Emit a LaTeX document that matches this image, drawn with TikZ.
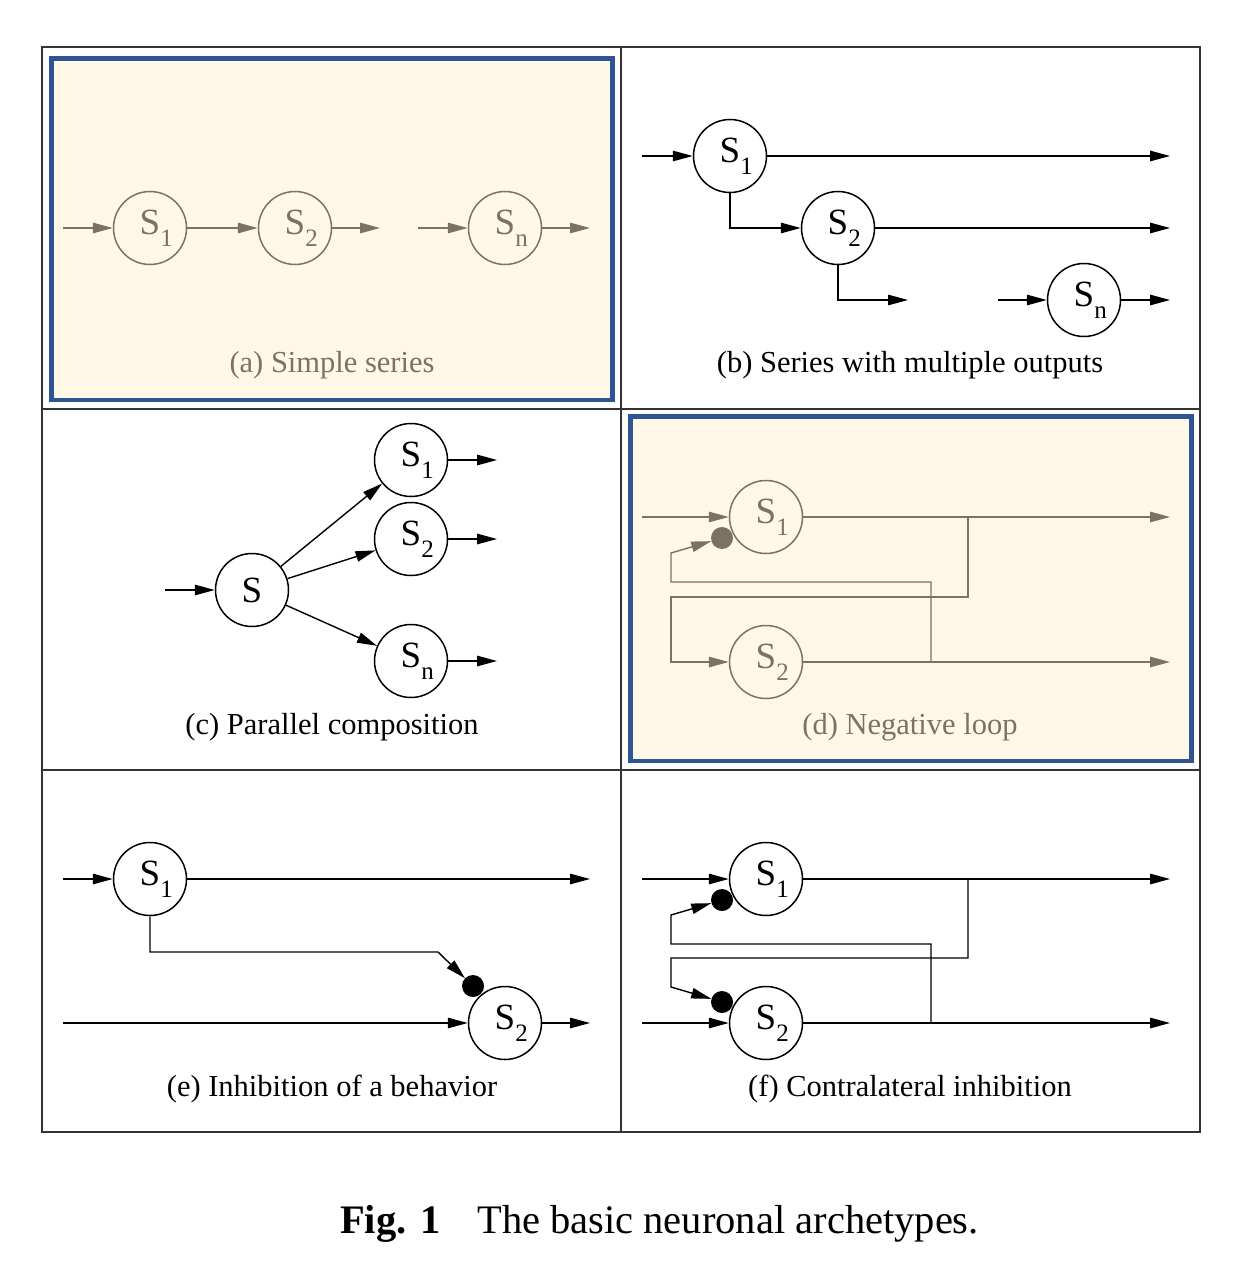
\documentclass[tikz,border=0pt]{standalone}
\usepackage{fontspec}
\setmainfont{Liberation Serif}
\usetikzlibrary{arrows.meta}
\definecolor{hlgray}{RGB}{122,115,99}
\definecolor{hlfill}{RGB}{255,248,231}
\definecolor{hlblue}{RGB}{47,84,150}
\newcommand\ssub[1]{\rlap{\raisebox{-0.33em}{\fontsize{25}{25}\selectfont #1}}}
\tikzset{
  neuron/.style={circle, draw, line width=1.5pt, minimum size=73pt, inner sep=0pt,
    font=\fontsize{37}{37}\selectfont},
  arr/.style={line width=1.4pt, -{Triangle[length=20pt,width=10.5pt]}},
  dotn/.style={circle, fill, inner sep=0pt, minimum size=22pt},
  captext/.style={anchor=base, font=\fontsize{30.5}{34}\selectfont},
  hl/.style={draw=hlblue, fill=hlfill, line width=4.7pt},
  gridl/.style={draw=black!80, line width=1.8pt},
}
\begin{document}
\begin{tikzpicture}[x=1pt,y=-1pt]
\useasboundingbox (0,0) rectangle (1254,1281);
% highlight panels
\path[hl] (51.5,58.4) rectangle (612.5,400);
\path[hl] (630.5,416.3) rectangle (1191.5,761);
% grid
\draw[gridl] (42,47.3) rectangle (1200,1132);
\draw[gridl] (621,47.3) -- (621,1132);
\draw[gridl] (42,408.7) -- (1200,408.7);
\draw[gridl] (42,770) -- (1200,770);

% ---------- (a) ----------
\begin{scope}[hlgray, draw=hlgray, text=hlgray]
\node[neuron] (a1) at (150,228) {S\ssub{1}};
\node[neuron] (a2) at (295,228) {S\ssub{2}};
\node[neuron] (an) at (505,228) {S\ssub{n}};
\coordinate (a0) at (63,228);
\coordinate (a2o) at (380,228);
\coordinate (ani) at (418,228);
\coordinate (ano) at (590,228);
\draw[arr] (a0) -- (a1);
\draw[arr] (a1) -- (a2);
\draw[arr] (a2) -- (a2o);
\draw[arr] (ani) -- (an);
\draw[arr] (an) -- (ano);
\node[captext] (capa) at (332,372) {(a) Simple series};
\end{scope}

% ---------- (b) ----------
\node[neuron] (b1) at (730,156) {S\ssub{1}};
\node[neuron] (b2) at (838,228) {S\ssub{2}};
\node[neuron] (bn) at (1084,300) {S\ssub{n}};
\coordinate (b0) at (642,156);
\coordinate (b1o) at (1170,156);
\coordinate (b2o) at (1170,228);
\coordinate (b2d) at (908,300);
\coordinate (bni) at (998,300);
\coordinate (bno) at (1170,300);
\draw[arr] (b0) -- (b1);
\draw[arr] (b1) -- (b1o);
\draw[arr] (b1.south) |- (b2);
\draw[arr] (b2) -- (b2o);
\draw[arr] (b2.south) |- (b2d);
\draw[arr] (bni) -- (bn);
\draw[arr] (bn) -- (bno);
\node[captext] (capb) at (910,372) {(b) Series with multiple outputs};

% ---------- (c) ----------
\node[neuron] (c0) at (252,590) {S};
\node[neuron] (c1) at (411,460) {S\ssub{1}};
\node[neuron] (c2) at (411,539) {S\ssub{2}};
\node[neuron] (cn) at (411,661) {S\ssub{n}};
\coordinate (ci) at (165,590);
\coordinate (c1o) at (497,460);
\coordinate (c2o) at (497,539);
\coordinate (cno) at (497,661);
\draw[arr] (ci) -- (c0);
\draw[arr] (c0) -- (c1);
\draw[arr] (c0) -- (c2);
\draw[arr] (c0) -- (cn);
\draw[arr] (c1) -- (c1o);
\draw[arr] (c2) -- (c2o);
\draw[arr] (cn) -- (cno);
\node[captext] (capc) at (332,734) {(c) Parallel composition};

% ---------- (d) ----------
\begin{scope}[hlgray, draw=hlgray, text=hlgray]
\node[neuron] (d1) at (766,517) {S\ssub{1}};
\node[neuron] (d2) at (766,662) {S\ssub{2}};
\node[dotn, fill=hlgray] (dd1) at (722,538) {};
\coordinate (d0) at (642,517);
\coordinate (d1o) at (1170,517);
\coordinate (d2o) at (1170,662);
\coordinate (dj1) at (968,517);
\coordinate (dj2) at (931,662);
\draw[arr] (d0) -- (d1);
\draw[arr] (d1) -- (d1o);
\draw[arr] (d2) -- (d2o);
\draw[arr] (dj1) -- (968,597) -- (671,597) -- (671,662) -- (d2);
\draw[arr] (dj2) -- (931,582) -- (671,582) -- (671,553) -- (dd1);
\node[captext] (capd) at (910,734) {(d) Negative loop};
\end{scope}

% ---------- (e) ----------
\node[neuron] (e1) at (150,879) {S\ssub{1}};
\node[neuron] (e2) at (505,1023) {S\ssub{2}};
\node[dotn] (ed) at (473,986) {};
\coordinate (e0) at (63,879);
\coordinate (e1o) at (590,879);
\coordinate (e2i) at (63,1023);
\coordinate (e2o) at (590,1023);
\draw[arr] (e0) -- (e1);
\draw[arr] (e1) -- (e1o);
\draw[arr] (e1.south) -- (150,952) -- (438,952) -- (ed);
\draw[arr] (e2i) -- (e2);
\draw[arr] (e2) -- (e2o);
\node[captext] (cape) at (332,1096) {(e) Inhibition of a behavior};

% ---------- (f) ----------
\node[neuron] (f1) at (766,879) {S\ssub{1}};
\node[neuron] (f2) at (766,1023) {S\ssub{2}};
\node[dotn] (fd1) at (722,900) {};
\node[dotn] (fd2) at (722,1002) {};
\coordinate (f1i) at (642,879);
\coordinate (f2i) at (642,1023);
\coordinate (f1o) at (1170,879);
\coordinate (f2o) at (1170,1023);
\coordinate (fj1) at (968,879);
\coordinate (fj2) at (931,1023);
\draw[arr] (f1i) -- (f1);
\draw[arr] (f2i) -- (f2);
\draw[arr] (f1) -- (f1o);
\draw[arr] (f2) -- (f2o);
\draw[arr] (fj1) -- (968,958) -- (671,958) -- (671,987) -- (fd2);
\draw[arr] (fj2) -- (931,944) -- (671,944) -- (671,915) -- (fd1);
\node[captext] (capf) at (910,1096) {(f) Contralateral inhibition};

% ---------- figure caption ----------
\node[anchor=base west, inner sep=0pt, font=\fontsize{40.5}{44}\selectfont] (figcap) at (340,1233)
  {\textbf{Fig. 1}\hspace{37pt}The basic neuronal archetypes.};
\end{tikzpicture}
\end{document}
